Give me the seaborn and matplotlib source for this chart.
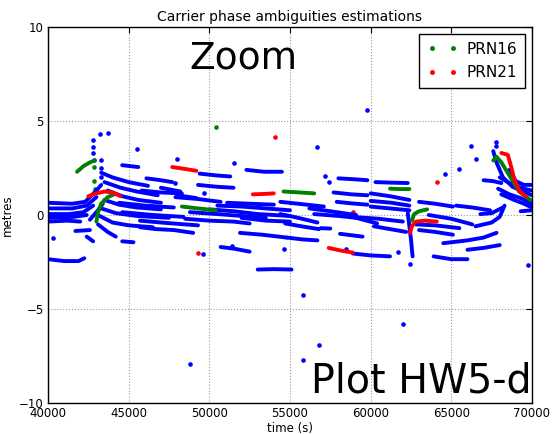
import numpy as np
import pandas as pd
import seaborn as sns
import matplotlib
matplotlib.use("Agg")
import matplotlib.pyplot as plt
from matplotlib.lines import Line2D

# arcs: lists of (time s, metres)
blue_arcs = [
    [(40000, -2.35), (41000, -2.45), (41900, -2.45), (42250, -2.3)],
    [(40000, 0.65), (41500, 0.6), (42300, 0.7), (43000, 1.3), (43300, 1.6)],
    [(40000, 0.35), (41500, 0.35), (42400, 0.5), (43000, 0.95)],
    [(40000, 0.05), (41300, 0.05), (42200, 0.15), (42800, 0.5)],
    [(40000, -0.15), (41600, -0.1), (42400, 0.0)],
    [(40000, -0.35), (41200, -0.3), (42000, -0.35)],
    [(41700, -0.85), (42600, -0.8)],
    [(42400, -1.15), (42800, -1.4)],
    [(42600, -0.25), (43100, 0.25), (43400, 0.6)],
    [(43300, 2.25), (44000, 2.0), (45000, 1.75), (46200, 1.55)],
    [(43500, 1.75), (44500, 1.45), (45500, 1.25), (46800, 1.05)],
    [(43700, 1.3), (44600, 1.0), (45600, 0.8), (47000, 0.65)],
    [(43500, 0.8), (44400, 0.55), (45500, 0.4), (47000, 0.3)],
    [(43300, 0.35), (44200, 0.1), (45500, -0.05), (47500, -0.15)],
    [(43200, -0.05), (44000, -0.4), (45000, -0.55), (46500, -0.65)],
    [(43100, -0.5), (43700, -0.9), (44200, -1.15)],
    [(44600, -1.4), (45300, -1.45)],
    [(44600, 2.65), (45600, 2.55)],
    [(46100, 1.95), (47000, 1.85), (47700, 1.75)],
    [(45800, 1.3), (47000, 1.2), (48300, 1.15)],
    [(45700, -0.65), (46700, -0.75), (47800, -0.8), (49000, -0.95)],
    [(45700, -0.3), (47000, -0.4), (48500, -0.5), (49300, -0.55)],
    [(44400, 0.65), (46000, 0.5), (47800, 0.4)],
    [(44600, 0.15), (46500, 0.0), (48400, -0.1)],
    [(47000, 1.45), (48200, 1.25)],
    [(47900, 0.95), (49300, 0.85), (50700, 0.7)],
    [(49400, 2.2), (50500, 2.1), (51300, 2.05)],
    [(52300, 2.4), (53400, 2.3), (54500, 2.3)],
    [(49300, 1.6), (50500, 1.5), (51500, 1.45)],
    [(48000, 1.05), (49200, 0.9)],
    [(48800, 0.15), (50500, 0.05), (52000, -0.05), (53500, -0.15)],
    [(48500, -0.2), (50000, -0.3), (51500, -0.35), (52500, -0.45)],
    [(50500, 0.5), (52000, 0.45), (53500, 0.35), (55000, 0.25)],
    [(51100, 0.65), (52500, 0.6), (54000, 0.55)],
    [(50000, 0.3), (51500, 0.2), (53000, 0.05), (55000, -0.05)],
    [(52000, -0.15), (53500, -0.3), (55000, -0.35)],
    [(51900, -0.95), (53300, -1.05), (54800, -1.2)],
    [(50700, -1.7), (51600, -1.8), (52500, -1.95)],
    [(53000, -2.9), (54000, -2.88), (55100, -2.9)],
    [(54400, 0.7), (55500, 0.6), (57100, 0.45)],
    [(54400, 0.05), (55500, -0.15), (56700, -0.4)],
    [(54700, -0.45), (55700, -0.6), (56800, -0.75)],
    [(54800, -1.2), (55800, -1.3), (56700, -1.35)],
    [(56200, 0.35), (57500, 0.2), (59100, 0.0)],
    [(56500, 0.05), (58000, -0.05), (59100, -0.15)],
    [(56900, -0.7), (57500, -0.72)],
    [(58100, -1.0), (59500, -1.15)],
    [(59100, -0.15), (60400, -0.45)],
    [(58900, -2.05), (60000, -2.15), (61200, -2.2)],
    [(58000, 1.95), (59000, 1.9), (59800, 1.85)],
    [(60300, 1.75), (61300, 1.72), (62300, 1.7)],
    [(57700, 1.2), (58800, 1.1), (59800, 1.05)],
    [(60000, 1.15), (61200, 1.0), (62400, 0.8)],
    [(60000, 0.75), (61300, 0.65), (62400, 0.5)],
    [(57900, 0.7), (58800, 0.62), (59800, 0.55)],
    [(60000, 0.45), (61200, 0.35), (62400, 0.25)],
    [(58800, -0.1), (60500, -0.2), (62000, -0.35)],
    [(60200, -0.6), (61200, -0.75), (62200, -0.9)],
    [(62300, 0.1), (62400, -0.6), (62500, -1.3), (62600, -2.2)],
    [(63000, 0.7), (64000, 0.6), (65100, 0.45)],
    [(65300, 0.5), (66300, 0.4), (67400, 0.25)],
    [(63600, 0.0), (65000, -0.2), (66300, -0.5)],
    [(63000, -0.8), (64000, -0.9), (65100, -1.05)],
    [(64500, -1.5), (66000, -1.35), (67000, -1.2), (67800, -0.95)],
    [(66000, -1.85), (67000, -1.75), (68000, -1.6)],
    [(63900, -2.2), (65000, -2.35), (66000, -2.35)],
    [(62800, -0.5), (64000, -0.55), (65500, -0.7)],
    [(66800, 0.05), (67500, 0.1), (68200, 0.4)],
    [(66500, -0.6), (67500, -0.4), (68000, -0.1), (68300, 0.5)],
    [(67000, 1.85), (67600, 1.8), (68100, 1.7)],
    [(67600, 3.4), (67800, 2.8), (68200, 2.0), (68800, 1.5), (70000, 1.05)],
    [(68000, 2.0), (68800, 1.6), (69500, 1.4), (70000, 1.3)],
    [(68600, 2.4), (69000, 1.8), (69500, 1.6), (70000, 1.6)],
    [(67900, 1.4), (68600, 1.1), (69300, 0.9), (70000, 0.6)],
    [(68100, 1.1), (68900, 0.8), (69500, 0.6), (70000, 0.4)],
    [(69300, 0.2), (70000, 0.25)],
]

prn16_arcs = [
    [(41800, 2.3), (42200, 2.6), (42600, 2.8), (42900, 2.9)],
    [(43000, -0.35), (43100, 0.15), (43300, 0.6), (43700, 0.95), (44100, 1.1)],
    [(48300, 0.45), (49300, 0.35), (50400, 0.25)],
    [(54600, 1.25), (55600, 1.2), (56500, 1.15)],
    [(61200, 1.4), (61800, 1.38), (62400, 1.38)],
    [(62550, -0.3), (62700, 0.05), (63000, 0.2), (63500, 0.3)],
    [(67600, 2.9), (67800, 3.1), (68100, 2.8), (68600, 2.1), (69200, 1.25), (69900, 0.8)],
]

prn21_arcs = [
    [(42500, 1.0), (43000, 1.15), (43500, 1.25), (44000, 1.2), (44500, 1.0)],
    [(47700, 2.55), (48500, 2.45), (49200, 2.35)],
    [(52700, 1.1), (53400, 1.12), (54000, 1.15)],
    [(57400, -1.75), (58200, -1.9), (58900, -2.0)],
    [(62450, -0.95), (62550, -0.6), (62800, -0.35), (63400, -0.3), (64100, -0.35)],
    [(68100, 3.3), (68500, 3.2), (68700, 2.6), (68900, 1.9), (69200, 1.3), (69600, 1.0)],
]

# isolated epochs
blue_dot_t = [42800, 42800, 42800, 42850, 43270, 43270, 43270, 43200, 43700, 45500,
              48000, 51500, 47900, 49700, 49600, 51400, 54600, 56700, 57200, 57400,
              58500, 61700, 59800, 55800, 48800, 56800, 55800, 62000, 62450, 69750,
              64600, 65500, 66200, 66500, 67800, 67800, 40300]
blue_dot_y = [4.0, 3.6, 3.3, 2.9, 2.9, 2.5, 2.0, 4.3, 4.35, 3.5,
              3.0, 2.75, 1.7, 1.15, -2.1, -1.65, -1.8, 3.6, 2.1, 1.75,
              -1.8, -1.95, 5.6, -4.25, -7.9, -6.9, -7.7, -5.8, -2.6, -2.65,
              2.2, 2.45, 3.65, 3.0, 3.9, 3.65, -1.2]
prn16_dot_t = [42850, 42850, 42900, 50400, 56700]
prn16_dot_y = [2.55, 1.8, 1.4, 4.7, 0.35]
prn21_dot_t = [54100, 49300, 58900, 64100]
prn21_dot_y = [4.15, -2.0, 0.15, 1.75]


def arcs_frame(arcs):
    rows = []
    for k, arc in enumerate(arcs):
        for t, y in arc:
            rows.append({"time": t, "metres": y, "arc": k})
    return pd.DataFrame(rows)


sns.set_style("white")
plt.rcParams["font.family"] = ["DejaVu Sans"]
plt.rcParams["xtick.direction"] = "in"
plt.rcParams["ytick.direction"] = "in"
for key in ["text.color", "axes.labelcolor", "xtick.color", "ytick.color"]:
    plt.rcParams[key] = "black"

fig = plt.figure(figsize=(5.56, 4.34), dpi=100)
ax = fig.add_axes([0.0863, 0.0714, 0.8705, 0.8664])

for arcs, dots_t, dots_y, col in [(blue_arcs, blue_dot_t, blue_dot_y, "b"),
                                  (prn16_arcs, prn16_dot_t, prn16_dot_y, "g"),
                                  (prn21_arcs, prn21_dot_t, prn21_dot_y, "r")]:
    sns.lineplot(data=arcs_frame(arcs), x="time", y="metres", units="arc",
                 estimator=None, sort=False, color=col, lw=2.8,
                 solid_capstyle="round", ax=ax, legend=False)
    sns.scatterplot(x=dots_t, y=dots_y, color=col, s=11, linewidth=0, ax=ax,
                    legend=False)

ax.set_xlim(40000, 70000)
ax.set_ylim(-10, 10)
ax.set_xticks(np.arange(40000, 70001, 5000))
ax.set_yticks([-10, -5, 0, 5, 10])
ax.grid(True, color="0.6", linestyle=":", linewidth=0.8)
ax.tick_params(labelsize=8.5, length=4, top=True, right=True, pad=3,
               colors="black")
for s in ax.spines.values():
    s.set_color("black")
    s.set_linewidth(1.0)

ax.set_title("Carrier phase ambiguities estimations", fontsize=10, pad=4,
             color="black")
ax.set_xlabel("time (s)", fontsize=8.5, labelpad=1)
ax.set_ylabel("metres", fontsize=8.5, labelpad=4)

ax.text(0.403, 0.915, "Zoom", transform=ax.transAxes, fontsize=27,
        ha="center", va="center", color="black")
ax.text(0.771, 0.057, "Plot HW5-d", transform=ax.transAxes, fontsize=28.5,
        ha="center", va="center", color="black")

handles = [Line2D([], [], color="g", marker=".", ls="", markersize=5),
           Line2D([], [], color="r", marker=".", ls="", markersize=5)]
leg = ax.legend(handles, ["PRN16", "PRN21"], loc="upper right", numpoints=2,
                fontsize=11, frameon=True, fancybox=False, framealpha=1,
                borderpad=0.5, handlelength=2.0, handletextpad=0.6,
                labelspacing=0.55, borderaxespad=0.45)
leg.get_frame().set_edgecolor("black")
leg.get_frame().set_linewidth(1.0)

fig.savefig("out.png", dpi=100)
